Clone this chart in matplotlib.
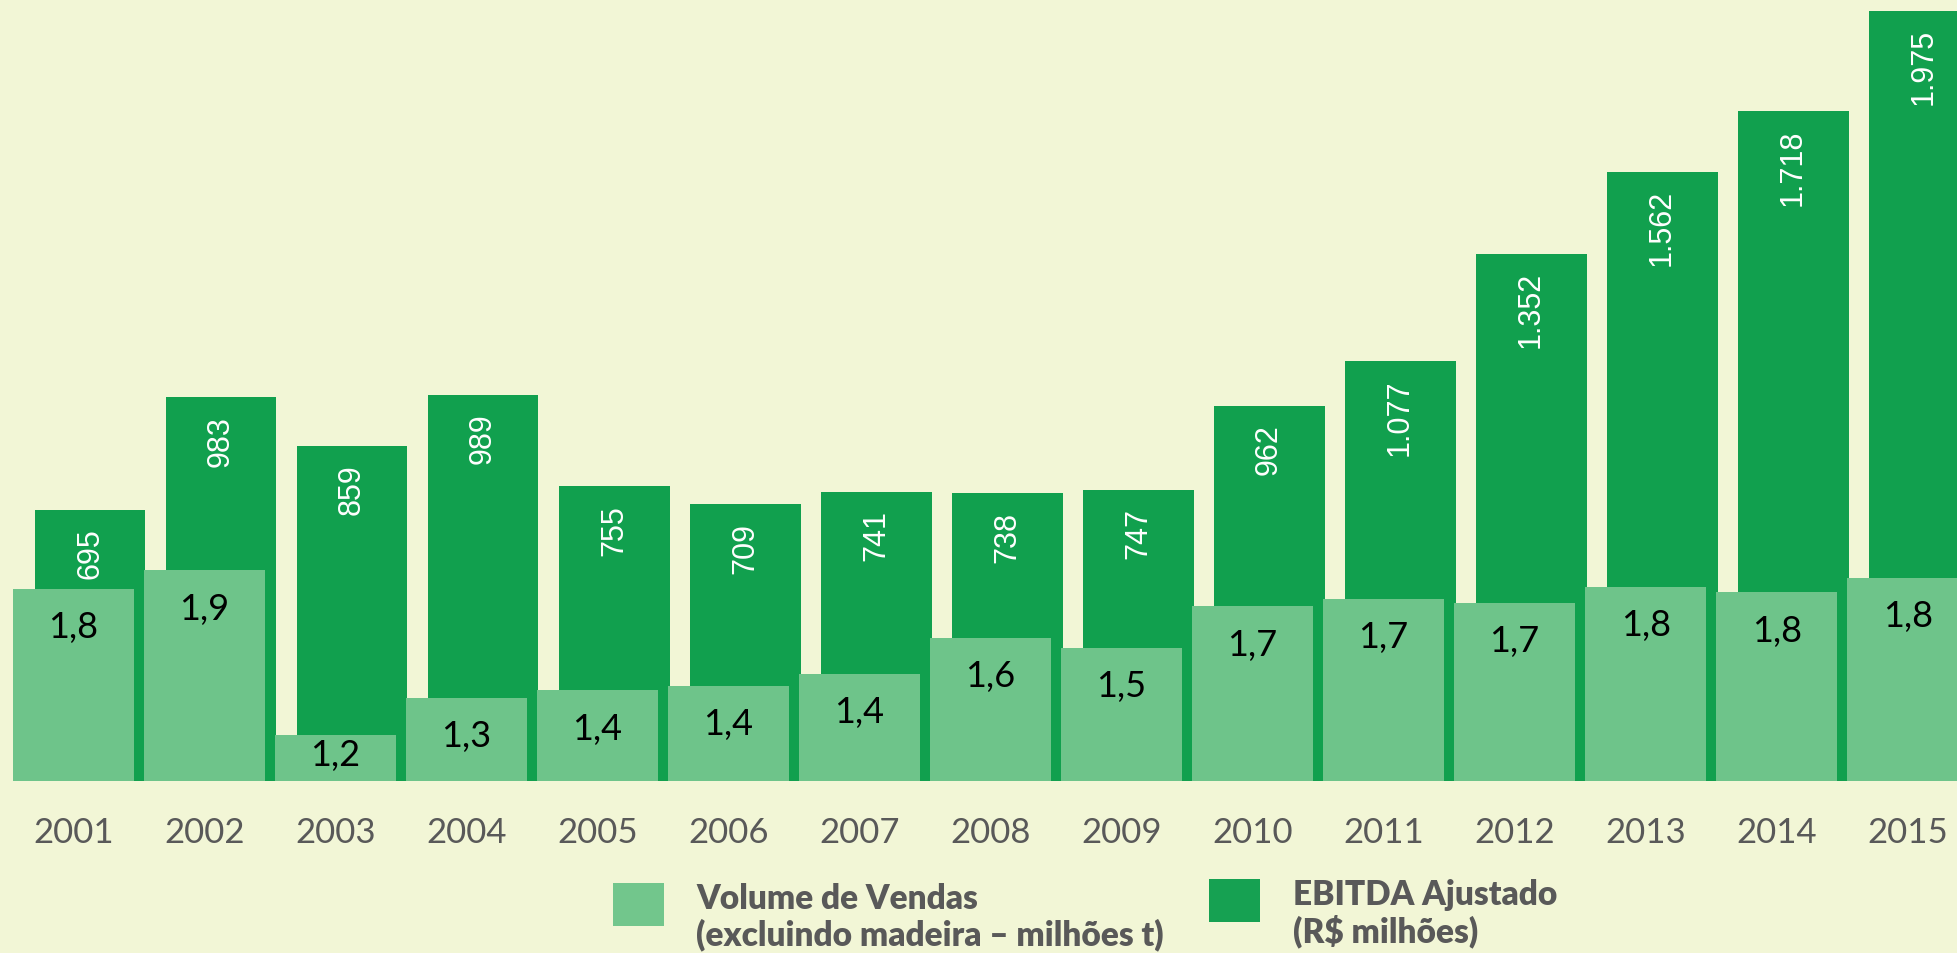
import numpy as np
import matplotlib
matplotlib.use("Agg")
import matplotlib.pyplot as plt
from matplotlib.patches import Rectangle

# data
years = ["2001", "2002", "2003", "2004", "2005", "2006", "2007", "2008",
         "2009", "2010", "2011", "2012", "2013", "2014", "2015"]
ebitda = [695, 983, 859, 989, 755, 709, 741, 738, 747, 962, 1077, 1352, 1562, 1718, 1975]
volume = [1.784, 1.861, 1.188, 1.339, 1.371, 1.388, 1.437, 1.584,
          1.543, 1.714, 1.743, 1.727, 1.792, 1.771, 1.829]

bg = "#F2F6D6"
dark = "#11A04E"
light = "#6EC48A"
gray = "#595959"

W, H = 1958, 953
fig = plt.figure(figsize=(W / 100, H / 100 + 0.004), dpi=100, facecolor=bg)
ax = fig.add_axes([0, 172 / H, 1, 781 / H])
ax.set_facecolor(bg)

x = np.arange(len(years))
ax.bar(x + 0.126, ebitda, width=0.847, color=dark, linewidth=0)
ax.set_xlim(-0.561, 14.385)
ax.set_ylim(0, 2003)

for xi, v in zip(x, ebitda):
    ax.annotate(f"{v:,}".replace(",", "."), (xi + 0.126, v), xytext=(0, -13),
                textcoords="offset points", rotation=90, ha="center", va="top",
                color="white", fontsize=22, family="Liberation Sans")

ax2 = ax.twinx()
ax2.bar(x, volume, width=0.924, color=light, linewidth=0)
ax2.set_ylim(1.0, 1.0 + 781 / 245)

for xi, v in zip(x, volume):
    off = -16 if v - 1.0 > 0.3 else -3
    ax2.annotate(f"{v:.1f}".replace(".", ","), (xi, v), xytext=(0, off),
                 textcoords="offset points", ha="center", va="top",
                 color="black", fontsize=26, family="Lato")

ax.set_xticks(x)
ax.set_xticklabels(years, fontsize=25, color=gray, family="Lato")
ax.tick_params(axis="x", length=0, pad=26)
ax.set_yticks([])
ax2.set_yticks([])
for a in (ax, ax2):
    for s in a.spines.values():
        s.set_visible(False)

# legend
fig.patches.append(Rectangle((613 / W, (H - 926) / H), 51 / W, 43 / H,
                             transform=fig.transFigure, color="#72C68C", lw=0))
fig.patches.append(Rectangle((1209 / W, (H - 922) / H), 51 / W, 43 / H,
                             transform=fig.transFigure, color="#16A152", lw=0))
fig.text(696 / W, (H - 883) / H, "Volume de Vendas\n(excluindo madeira – milhões t)",
         ha="left", va="top", fontsize=24, fontweight="heavy", color=gray,
         family="Lato", linespacing=1.1)
fig.text(1293 / W, (H - 879) / H, "EBITDA Ajustado\n(R$ milhões)",
         ha="left", va="top", fontsize=24, fontweight="heavy", color=gray,
         family="Lato", linespacing=1.1)

fig.savefig("out.png", dpi=100, facecolor=bg)
